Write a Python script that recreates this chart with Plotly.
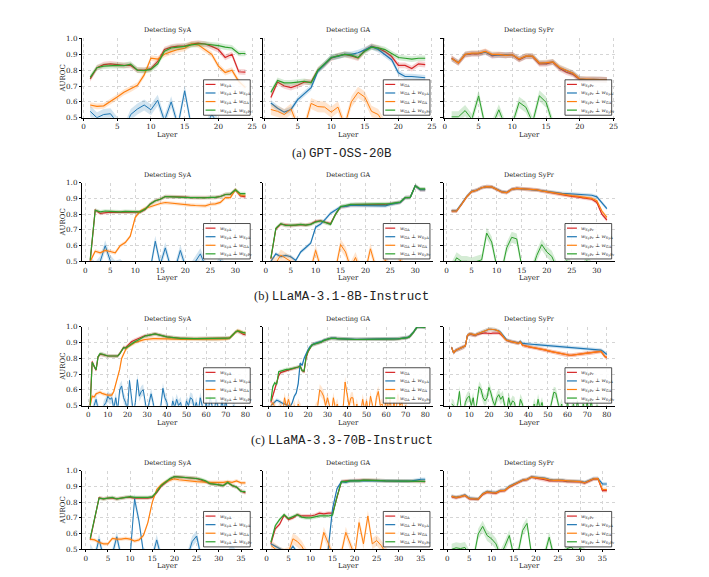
import plotly.graph_objects as go

# ---------------- data (AUROC per layer) ----------------
gpt_layers = list(range(1, 25))
gpt_sya_w = [0.745, 0.815, 0.835, 0.84, 0.835, 0.83, 0.83, 0.80, 0.80, 0.81, 0.855, 0.93,
             0.945, 0.952, 0.952, 0.965, 0.97, 0.965, 0.95, 0.93, 0.88, 0.90, 0.79, 0.787]
gpt_sya_perp_sya = [0.54, 0.50, 0.52, 0.525, 0.47, 0.42, 0.52, 0.555, 0.58, 0.55, 0.61, 0.48,
                    0.60, 0.45, 0.67, 0.44, 0.42, 0.43, 0.52, 0.46, 0.44, 0.43, 0.42, 0.42]
gpt_sya_perp_ga = [0.58, 0.572, 0.575, 0.60, 0.63, 0.66, 0.68, 0.705, 0.77, 0.876, 0.87, 0.90,
                   0.917, 0.93, 0.938, 0.965, 0.96, 0.93, 0.90, 0.825, 0.785, 0.80, 0.73, 0.69]
gpt_sya_perp_sypr = [0.755, 0.815, 0.825, 0.828, 0.83, 0.828, 0.838, 0.80, 0.797, 0.805, 0.84, 0.92,
                     0.94, 0.945, 0.95, 0.96, 0.965, 0.965, 0.96, 0.955, 0.945, 0.94, 0.905, 0.905]

gpt_ga_w = [0.628, 0.725, 0.70, 0.69, 0.705, 0.725, 0.725, 0.80, 0.835, 0.876, 0.89, 0.90,
            0.89, 0.876, 0.924, 0.952, 0.938, 0.917, 0.886, 0.83, 0.83, 0.81, 0.84, 0.835]
gpt_ga_perp_sya = [0.593, 0.56, 0.535, 0.552, 0.614, 0.655, 0.69, 0.793, 0.835, 0.88, 0.886, 0.90,
                   0.90, 0.91, 0.928, 0.948, 0.93, 0.90, 0.866, 0.783, 0.76, 0.76, 0.758, 0.752]
gpt_ga_perp_ga = [0.552, 0.54, 0.52, 0.555, 0.45, 0.44, 0.59, 0.57, 0.567, 0.535, 0.567, 0.45,
                  0.60, 0.66, 0.63, 0.54, 0.52, 0.45, 0.44, 0.43, 0.43, 0.44, 0.43, 0.43]
gpt_ga_perp_sypr = [0.66, 0.735, 0.72, 0.72, 0.725, 0.73, 0.72, 0.80, 0.84, 0.88, 0.89, 0.90,
                    0.895, 0.88, 0.92, 0.945, 0.94, 0.93, 0.905, 0.88, 0.875, 0.87, 0.875, 0.875]

gpt_sypr_w = [0.876, 0.845, 0.897, 0.903, 0.903, 0.917, 0.89, 0.897, 0.893, 0.897, 0.866, 0.886,
              0.886, 0.84, 0.84, 0.85, 0.81, 0.787, 0.773, 0.74, 0.74, 0.742, 0.74, 0.738]
gpt_sypr_perp_sya = [0.872, 0.848, 0.90, 0.905, 0.905, 0.913, 0.895, 0.895, 0.893, 0.897, 0.87, 0.888,
                     0.888, 0.845, 0.845, 0.852, 0.815, 0.795, 0.78, 0.745, 0.74, 0.742, 0.74, 0.738]
gpt_sypr_perp_ga = [0.874, 0.846, 0.90, 0.907, 0.907, 0.918, 0.90, 0.90, 0.893, 0.897, 0.87, 0.89,
                    0.888, 0.845, 0.847, 0.852, 0.817, 0.797, 0.78, 0.745, 0.742, 0.742, 0.74, 0.738]
gpt_sypr_perp_sypr = [0.505, 0.505, 0.545, 0.49, 0.638, 0.44, 0.45, 0.55, 0.44, 0.46, 0.597, 0.566,
                      0.47, 0.638, 0.597, 0.46, 0.44, 0.44, 0.44, 0.44, 0.44, 0.44, 0.44, 0.44]

l8_layers = list(range(1, 33))
l8_sya_w = [0.50, 0.826, 0.805, 0.81, 0.813, 0.812, 0.813, 0.815, 0.815, 0.813, 0.813, 0.83,
            0.865, 0.885, 0.895, 0.912, 0.912, 0.912, 0.91, 0.908, 0.905, 0.905, 0.903, 0.903,
            0.905, 0.907, 0.912, 0.925, 0.925, 0.955, 0.915, 0.91]
l8_sya_perp_sya = [0.50, 0.46, 0.50, 0.60, 0.505, 0.47, 0.48, 0.45, 0.44, 0.44, 0.44, 0.44,
                   0.45, 0.628, 0.48, 0.586, 0.47, 0.46, 0.57, 0.47, 0.45, 0.50, 0.548, 0.47,
                   0.45, 0.45, 0.505, 0.45, 0.44, 0.44, 0.44, 0.44]
l8_sya_perp_ga = [0.50, 0.565, 0.555, 0.57, 0.563, 0.555, 0.60, 0.62, 0.66, 0.78, 0.82, 0.838,
                  0.847, 0.86, 0.868, 0.874, 0.87, 0.868, 0.865, 0.86, 0.857, 0.855, 0.853, 0.853,
                  0.863, 0.865, 0.875, 0.905, 0.905, 0.955, 0.92, 0.92]
l8_sya_perp_sypr = [0.51, 0.825, 0.815, 0.82, 0.818, 0.815, 0.815, 0.818, 0.818, 0.815, 0.815, 0.832,
                    0.865, 0.885, 0.895, 0.912, 0.91, 0.91, 0.91, 0.907, 0.905, 0.905, 0.903, 0.903,
                    0.907, 0.907, 0.912, 0.925, 0.928, 0.955, 0.93, 0.93]

l8_ga_w = [0.517, 0.706, 0.737, 0.73, 0.727, 0.73, 0.733, 0.73, 0.737, 0.754, 0.758, 0.748,
           0.74, 0.80, 0.847, 0.85, 0.858, 0.86, 0.86, 0.86, 0.86, 0.86, 0.86, 0.86,
           0.865, 0.87, 0.875, 0.905, 0.907, 0.98, 0.955, 0.955]
l8_ga_perp_sya = [0.50, 0.548, 0.53, 0.538, 0.53, 0.506, 0.56, 0.586, 0.616, 0.717, 0.737, 0.77,
                  0.806, 0.826, 0.847, 0.85, 0.855, 0.855, 0.855, 0.855, 0.855, 0.855, 0.853, 0.853,
                  0.862, 0.868, 0.875, 0.905, 0.907, 0.98, 0.955, 0.955]
l8_ga_perp_ga = [0.50, 0.49, 0.54, 0.52, 0.50, 0.46, 0.44, 0.44, 0.45, 0.57, 0.46, 0.44,
                 0.44, 0.45, 0.607, 0.56, 0.46, 0.525, 0.44, 0.44, 0.58, 0.47, 0.44, 0.51,
                 0.45, 0.44, 0.51, 0.44, 0.46, 0.44, 0.44, 0.44]
l8_ga_perp_sypr = [0.52, 0.71, 0.74, 0.728, 0.73, 0.73, 0.735, 0.73, 0.735, 0.75, 0.758, 0.745,
                   0.735, 0.80, 0.848, 0.855, 0.862, 0.863, 0.863, 0.863, 0.863, 0.863, 0.863, 0.863,
                   0.867, 0.872, 0.877, 0.905, 0.907, 0.98, 0.96, 0.96]

l8_sypr_w = [0.82, 0.82, 0.863, 0.91, 0.943, 0.952, 0.968, 0.975, 0.973, 0.958, 0.941, 0.937,
             0.958, 0.964, 0.962, 0.958, 0.954, 0.954, 0.947, 0.941, 0.937, 0.93, 0.922, 0.916,
             0.913, 0.91, 0.905, 0.90, 0.895, 0.874, 0.80, 0.763]
l8_sypr_perp_sya = [0.822, 0.822, 0.865, 0.912, 0.945, 0.953, 0.968, 0.975, 0.973, 0.96, 0.943, 0.938,
                    0.958, 0.964, 0.962, 0.96, 0.956, 0.955, 0.95, 0.945, 0.94, 0.937, 0.932, 0.93,
                    0.928, 0.926, 0.925, 0.925, 0.92, 0.91, 0.87, 0.835]
l8_sypr_perp_ga = [0.82, 0.82, 0.863, 0.91, 0.943, 0.952, 0.968, 0.975, 0.973, 0.958, 0.941, 0.937,
                   0.958, 0.964, 0.962, 0.958, 0.954, 0.954, 0.948, 0.943, 0.937, 0.932, 0.926, 0.92,
                   0.918, 0.915, 0.91, 0.905, 0.90, 0.885, 0.82, 0.78]
l8_sypr_perp_sypr = [0.46, 0.523, 0.50, 0.50, 0.49, 0.50, 0.51, 0.68, 0.623, 0.47, 0.44, 0.586,
                     0.653, 0.643, 0.47, 0.44, 0.44, 0.538, 0.607, 0.56, 0.532, 0.46, 0.44, 0.505,
                     0.46, 0.47, 0.44, 0.505, 0.46, 0.44, 0.44, 0.44]

l70_layers = list(range(1, 81))
l70_sya_w = [0.50, 0.78, 0.75, 0.725, 0.81, 0.825, 0.825, 0.82, 0.818, 0.815,
             0.815, 0.815, 0.815, 0.815, 0.815, 0.83, 0.855, 0.87, 0.868, 0.88,
             0.895, 0.905, 0.912, 0.918, 0.922, 0.925, 0.935, 0.94, 0.945, 0.945,
             0.948, 0.95, 0.952, 0.955, 0.952, 0.95, 0.947, 0.943, 0.94, 0.937,
             0.935, 0.933, 0.932, 0.93, 0.93, 0.928, 0.927, 0.927, 0.926, 0.925,
             0.925, 0.925, 0.925, 0.925, 0.925, 0.925, 0.925, 0.925, 0.925, 0.925,
             0.925, 0.925, 0.925, 0.925, 0.925, 0.925, 0.926, 0.927, 0.927, 0.927,
             0.928, 0.93, 0.94, 0.955, 0.968, 0.972, 0.968, 0.96, 0.952, 0.95]
l70_sya_perp_sya = [0.45, 0.45, 0.50, 0.54, 0.48, 0.45, 0.45, 0.50, 0.52, 0.56,
                    0.54, 0.55, 0.48, 0.55, 0.47, 0.60, 0.625, 0.55, 0.52, 0.47,
                    0.66, 0.50, 0.45, 0.52, 0.665, 0.56, 0.59, 0.60, 0.48, 0.45,
                    0.52, 0.575, 0.52, 0.45, 0.45, 0.45, 0.50, 0.61, 0.55, 0.52,
                    0.46, 0.45, 0.53, 0.49, 0.54, 0.50, 0.52, 0.46, 0.45, 0.53,
                    0.50, 0.55, 0.54, 0.48, 0.52, 0.46, 0.55, 0.50, 0.45, 0.52,
                    0.46, 0.55, 0.50, 0.45, 0.54, 0.48, 0.45, 0.53, 0.47, 0.53,
                    0.46, 0.45, 0.45, 0.50, 0.46, 0.45, 0.45, 0.45, 0.45, 0.45]
l70_sya_perp_ga = [0.50, 0.56, 0.555, 0.575, 0.58, 0.585, 0.578, 0.572, 0.57, 0.567,
                   0.567, 0.567, 0.59, 0.64, 0.69, 0.73, 0.80, 0.83, 0.855, 0.87,
                   0.88, 0.888, 0.895, 0.902, 0.907, 0.91, 0.913, 0.918, 0.92, 0.922,
                   0.925, 0.925, 0.926, 0.926, 0.926, 0.925, 0.925, 0.925, 0.925, 0.924,
                   0.923, 0.923, 0.922, 0.922, 0.922, 0.922, 0.921, 0.921, 0.92, 0.92,
                   0.92, 0.92, 0.92, 0.92, 0.92, 0.92, 0.92, 0.92, 0.92, 0.92,
                   0.92, 0.92, 0.92, 0.92, 0.92, 0.92, 0.921, 0.922, 0.923, 0.924,
                   0.926, 0.93, 0.94, 0.955, 0.97, 0.978, 0.975, 0.97, 0.962, 0.965]
l70_sya_perp_sypr = [0.50, 0.775, 0.75, 0.728, 0.81, 0.83, 0.828, 0.822, 0.818, 0.815,
                     0.815, 0.815, 0.815, 0.815, 0.815, 0.828, 0.85, 0.868, 0.865, 0.872,
                     0.882, 0.892, 0.902, 0.908, 0.913, 0.92, 0.93, 0.938, 0.942, 0.945,
                     0.948, 0.95, 0.952, 0.955, 0.952, 0.95, 0.947, 0.943, 0.94, 0.937,
                     0.935, 0.933, 0.932, 0.93, 0.93, 0.928, 0.927, 0.927, 0.926, 0.925,
                     0.925, 0.925, 0.925, 0.925, 0.925, 0.925, 0.925, 0.925, 0.925, 0.925,
                     0.925, 0.925, 0.925, 0.925, 0.925, 0.925, 0.926, 0.927, 0.927, 0.927,
                     0.928, 0.93, 0.94, 0.955, 0.968, 0.975, 0.97, 0.965, 0.962, 0.96]

l70_ga_w = [0.52, 0.56, 0.60, 0.64, 0.69, 0.71, 0.715, 0.72, 0.725, 0.728,
            0.73, 0.733, 0.736, 0.74, 0.745, 0.752, 0.722, 0.715, 0.80, 0.84,
            0.865, 0.885, 0.89, 0.893, 0.895, 0.90, 0.905, 0.913, 0.918, 0.922,
            0.925, 0.927, 0.928, 0.927, 0.925, 0.924, 0.923, 0.922, 0.922, 0.921,
            0.921, 0.92, 0.92, 0.92, 0.92, 0.92, 0.92, 0.92, 0.92, 0.92,
            0.92, 0.92, 0.92, 0.92, 0.92, 0.92, 0.92, 0.92, 0.92, 0.92,
            0.92, 0.922, 0.923, 0.923, 0.924, 0.924, 0.925, 0.926, 0.928, 0.93,
            0.932, 0.938, 0.95, 0.965, 0.985, 1.0, 1.0, 1.0, 1.0, 0.997]
l70_ga_perp_sya = [0.50, 0.51, 0.52, 0.535, 0.53, 0.52, 0.515, 0.51, 0.505, 0.505,
                   0.495, 0.52, 0.56, 0.58, 0.64, 0.77, 0.755, 0.80, 0.83, 0.855,
                   0.875, 0.885, 0.892, 0.897, 0.90, 0.903, 0.908, 0.915, 0.92, 0.925,
                   0.926, 0.928, 0.929, 0.928, 0.926, 0.925, 0.924, 0.923, 0.923, 0.922,
                   0.922, 0.921, 0.921, 0.921, 0.921, 0.921, 0.921, 0.921, 0.921, 0.921,
                   0.921, 0.921, 0.921, 0.921, 0.921, 0.921, 0.921, 0.921, 0.921, 0.921,
                   0.921, 0.923, 0.924, 0.924, 0.925, 0.925, 0.926, 0.927, 0.929, 0.931,
                   0.933, 0.939, 0.951, 0.966, 0.986, 1.0, 1.0, 1.0, 1.0, 0.998]
l70_ga_perp_ga = [0.50, 0.52, 0.49, 0.45, 0.47, 0.50, 0.45, 0.55, 0.49, 0.54,
                  0.49, 0.46, 0.50, 0.45, 0.51, 0.47, 0.45, 0.45, 0.47, 0.45,
                  0.45, 0.46, 0.45, 0.48, 0.50, 0.60, 0.585, 0.56, 0.50, 0.55,
                  0.48, 0.45, 0.55, 0.48, 0.51, 0.45, 0.46, 0.48, 0.65, 0.57,
                  0.50, 0.55, 0.55, 0.46, 0.51, 0.45, 0.46, 0.54, 0.47, 0.53,
                  0.45, 0.56, 0.48, 0.45, 0.55, 0.59, 0.50, 0.51, 0.45, 0.55,
                  0.47, 0.54, 0.45, 0.52, 0.46, 0.57, 0.50, 0.52, 0.45, 0.50,
                  0.46, 0.45, 0.45, 0.45, 0.45, 0.45, 0.45, 0.45, 0.45, 0.45]
l70_ga_perp_sypr = [0.53, 0.62, 0.645, 0.635, 0.715, 0.72, 0.725, 0.728, 0.73, 0.73,
                    0.732, 0.735, 0.74, 0.742, 0.745, 0.75, 0.722, 0.72, 0.81, 0.845,
                    0.865, 0.885, 0.89, 0.893, 0.895, 0.90, 0.905, 0.913, 0.918, 0.922,
                    0.925, 0.927, 0.928, 0.927, 0.925, 0.924, 0.923, 0.922, 0.922, 0.921,
                    0.921, 0.92, 0.92, 0.92, 0.92, 0.92, 0.92, 0.92, 0.92, 0.92,
                    0.92, 0.92, 0.92, 0.92, 0.92, 0.92, 0.92, 0.92, 0.92, 0.92,
                    0.92, 0.922, 0.923, 0.923, 0.924, 0.924, 0.925, 0.926, 0.928, 0.93,
                    0.932, 0.938, 0.95, 0.965, 0.985, 1.0, 1.0, 1.0, 1.0, 0.997]

l70_sypr_w = [0.87, 0.835, 0.85, 0.855, 0.86, 0.865, 0.87, 0.88, 0.945, 0.952,
              0.952, 0.948, 0.945, 0.952, 0.955, 0.96, 0.962, 0.962, 0.96, 0.958,
              0.958, 0.96, 0.96, 0.962, 0.96, 0.953, 0.94, 0.925, 0.915, 0.91,
              0.908, 0.905, 0.902, 0.90, 0.895, 0.905, 0.885, 0.88, 0.878, 0.875,
              0.872, 0.87, 0.868, 0.866, 0.864, 0.862, 0.86, 0.856, 0.852, 0.848,
              0.845, 0.842, 0.84, 0.838, 0.835, 0.832, 0.828, 0.825, 0.822, 0.82,
              0.82, 0.82, 0.821, 0.822, 0.825, 0.827, 0.828, 0.83, 0.832, 0.833,
              0.834, 0.835, 0.836, 0.838, 0.84, 0.843, 0.845, 0.83, 0.812, 0.805]
l70_sypr_perp_sya = [0.87, 0.835, 0.85, 0.855, 0.86, 0.865, 0.87, 0.88, 0.945, 0.955,
                     0.955, 0.95, 0.948, 0.955, 0.96, 0.965, 0.972, 0.978, 0.982, 0.985,
                     0.985, 0.985, 0.982, 0.978, 0.975, 0.965, 0.948, 0.93, 0.918, 0.912,
                     0.908, 0.905, 0.902, 0.90, 0.898, 0.908, 0.895, 0.893, 0.892, 0.89,
                     0.89, 0.889, 0.888, 0.887, 0.886, 0.885, 0.884, 0.883, 0.882, 0.881,
                     0.88, 0.88, 0.879, 0.878, 0.877, 0.876, 0.875, 0.875, 0.874, 0.873,
                     0.872, 0.871, 0.87, 0.869, 0.868, 0.866, 0.865, 0.864, 0.863, 0.862,
                     0.861, 0.86, 0.858, 0.857, 0.856, 0.855, 0.853, 0.845, 0.835, 0.825]
l70_sypr_perp_ga = [0.87, 0.835, 0.85, 0.855, 0.86, 0.865, 0.87, 0.88, 0.945, 0.955,
                    0.955, 0.95, 0.948, 0.955, 0.96, 0.965, 0.972, 0.978, 0.982, 0.985,
                    0.985, 0.985, 0.982, 0.978, 0.972, 0.96, 0.942, 0.925, 0.915, 0.91,
                    0.908, 0.905, 0.902, 0.90, 0.895, 0.905, 0.885, 0.88, 0.878, 0.875,
                    0.872, 0.87, 0.868, 0.866, 0.864, 0.862, 0.86, 0.856, 0.852, 0.848,
                    0.845, 0.842, 0.84, 0.838, 0.835, 0.832, 0.828, 0.825, 0.822, 0.82,
                    0.82, 0.82, 0.821, 0.822, 0.825, 0.827, 0.828, 0.83, 0.832, 0.833,
                    0.834, 0.835, 0.836, 0.838, 0.84, 0.843, 0.845, 0.83, 0.812, 0.805]
l70_sypr_perp_sypr = [0.51, 0.50, 0.46, 0.50, 0.59, 0.45, 0.45, 0.52, 0.55, 0.56,
                      0.50, 0.55, 0.45, 0.55, 0.62, 0.60, 0.55, 0.53, 0.55, 0.615,
                      0.58, 0.53, 0.50, 0.55, 0.57, 0.54, 0.56, 0.50, 0.46, 0.55,
                      0.50, 0.53, 0.52, 0.45, 0.46, 0.54, 0.51, 0.45, 0.45, 0.45,
                      0.46, 0.45, 0.51, 0.47, 0.54, 0.48, 0.52, 0.45, 0.46, 0.45,
                      0.47, 0.52, 0.585, 0.58, 0.53, 0.47, 0.51, 0.45, 0.46, 0.52,
                      0.45, 0.47, 0.51, 0.45, 0.53, 0.46, 0.45, 0.51, 0.46, 0.52,
                      0.45, 0.53, 0.46, 0.45, 0.50, 0.45, 0.45, 0.45, 0.45, 0.45]

q_layers = list(range(1, 37))
q_sya_w = [0.56, 0.70, 0.827, 0.82, 0.825, 0.825, 0.82, 0.825, 0.83, 0.83, 0.825, 0.825,
           0.825, 0.825, 0.83, 0.86, 0.90, 0.925, 0.945, 0.962, 0.96, 0.955, 0.955, 0.95,
           0.95, 0.94, 0.93, 0.917, 0.915, 0.91, 0.905, 0.925, 0.905, 0.895, 0.87, 0.858]
q_sya_perp_sya = [0.50, 0.45, 0.565, 0.45, 0.45, 0.47, 0.58, 0.45, 0.45, 0.45, 0.82, 0.68,
                  0.48, 0.45, 0.45, 0.56, 0.45, 0.44, 0.44, 0.44, 0.44, 0.44, 0.46, 0.55,
                  0.585, 0.45, 0.44, 0.44, 0.44, 0.44, 0.44, 0.46, 0.50, 0.45, 0.44, 0.44]
q_sya_perp_ga = [0.565, 0.56, 0.545, 0.535, 0.535, 0.57, 0.565, 0.565, 0.57, 0.565, 0.553, 0.56,
                 0.588, 0.67, 0.80, 0.88, 0.91, 0.93, 0.94, 0.948, 0.942, 0.938, 0.935, 0.932,
                 0.93, 0.928, 0.925, 0.925, 0.925, 0.925, 0.925, 0.93, 0.925, 0.935, 0.922, 0.922]
q_sya_perp_sypr = [0.57, 0.70, 0.825, 0.82, 0.825, 0.83, 0.82, 0.825, 0.83, 0.835, 0.83, 0.83,
                   0.83, 0.83, 0.835, 0.865, 0.905, 0.93, 0.95, 0.962, 0.96, 0.96, 0.955, 0.955,
                   0.95, 0.945, 0.935, 0.917, 0.915, 0.91, 0.905, 0.925, 0.905, 0.895, 0.868, 0.866]

q_ga_w = [0.535, 0.63, 0.66, 0.717, 0.69, 0.70, 0.72, 0.712, 0.712, 0.712, 0.718, 0.73,
          0.725, 0.73, 0.73, 0.837, 0.93, 0.935, 0.937, 0.937, 0.937, 0.94, 0.94, 0.94,
          0.938, 0.937, 0.935, 0.935, 0.934, 0.933, 0.933, 0.932, 0.932, 0.932, 0.932, 0.93]
q_ga_perp_sya = [0.535, 0.52, 0.50, 0.49, 0.48, 0.52, 0.48, 0.47, 0.47, 0.46, 0.46, 0.45,
                 0.45, 0.50, 0.76, 0.885, 0.93, 0.925, 0.935, 0.935, 0.935, 0.938, 0.938, 0.938,
                 0.937, 0.936, 0.935, 0.934, 0.934, 0.933, 0.933, 0.934, 0.935, 0.94, 0.945, 0.945]
q_ga_perp_ga = [0.525, 0.50, 0.48, 0.47, 0.48, 0.567, 0.55, 0.52, 0.47, 0.45, 0.45, 0.47,
                0.608, 0.54, 0.46, 0.45, 0.48, 0.608, 0.525, 0.46, 0.67, 0.535, 0.712, 0.535,
                0.556, 0.525, 0.48, 0.45, 0.45, 0.45, 0.45, 0.45, 0.45, 0.45, 0.45, 0.45]
q_ga_perp_sypr = [0.545, 0.65, 0.69, 0.72, 0.695, 0.705, 0.72, 0.705, 0.70, 0.70, 0.705, 0.712,
                  0.712, 0.712, 0.718, 0.835, 0.93, 0.93, 0.935, 0.935, 0.935, 0.94, 0.94, 0.94,
                  0.938, 0.937, 0.935, 0.935, 0.934, 0.933, 0.933, 0.932, 0.932, 0.932, 0.932, 0.932]

q_sypr_w = [0.833, 0.827, 0.833, 0.842, 0.82, 0.82, 0.817, 0.848, 0.862, 0.858, 0.855, 0.87,
            0.872, 0.895, 0.91, 0.925, 0.938, 0.942, 0.958, 0.952, 0.948, 0.942, 0.935, 0.935,
            0.937, 0.935, 0.93, 0.93, 0.928, 0.928, 0.92, 0.935, 0.946, 0.948, 0.873, 0.873]
q_sypr_perp_sya = [0.838, 0.832, 0.837, 0.845, 0.825, 0.823, 0.82, 0.853, 0.868, 0.863, 0.862, 0.875,
                   0.877, 0.90, 0.912, 0.928, 0.94, 0.945, 0.96, 0.958, 0.957, 0.952, 0.945, 0.94,
                   0.94, 0.94, 0.935, 0.935, 0.933, 0.932, 0.925, 0.938, 0.95, 0.95, 0.915, 0.915]
q_sypr_perp_ga = [0.836, 0.83, 0.835, 0.843, 0.823, 0.822, 0.819, 0.851, 0.865, 0.861, 0.859, 0.873,
                  0.875, 0.898, 0.911, 0.927, 0.939, 0.944, 0.959, 0.956, 0.954, 0.949, 0.942, 0.938,
                  0.939, 0.938, 0.933, 0.933, 0.931, 0.93, 0.923, 0.937, 0.948, 0.949, 0.88, 0.88]
q_sypr_perp_sypr = [0.50, 0.51, 0.505, 0.512, 0.46, 0.45, 0.598, 0.646, 0.588, 0.567, 0.535, 0.46,
                    0.52, 0.588, 0.46, 0.48, 0.62, 0.665, 0.47, 0.45, 0.45, 0.47, 0.577, 0.46,
                    0.45, 0.45, 0.505, 0.515, 0.48, 0.51, 0.47, 0.45, 0.45, 0.45, 0.45, 0.45]

# ---------------- figure ----------------
W, H = 709, 577
colors = ["#d62728", "#1f77b4", "#ff7f0e", "#2ca02c"]
fills = ["rgba(214,39,40,0.2)", "rgba(31,119,180,0.2)", "rgba(255,127,14,0.2)", "rgba(44,160,44,0.2)"]
titles = ["Detecting SyA", "Detecting GA", "Detecting SyPr"]
concepts = ["SyA", "GA", "SyPr"]

rows = [
    dict(tag="(a)", name="GPT-OSS-20B", layers=gpt_layers, ticks=[0, 5, 10, 15, 20, 25], spread=0.018,
         panels=[[gpt_sya_w, gpt_sya_perp_sya, gpt_sya_perp_ga, gpt_sya_perp_sypr],
                 [gpt_ga_w, gpt_ga_perp_sya, gpt_ga_perp_ga, gpt_ga_perp_sypr],
                 [gpt_sypr_w, gpt_sypr_perp_sya, gpt_sypr_perp_ga, gpt_sypr_perp_sypr]]),
    dict(tag="(b)", name="LLaMA-3.1-8B-Instruct", layers=l8_layers, ticks=[0, 5, 10, 15, 20, 25, 30], spread=0.012,
         panels=[[l8_sya_w, l8_sya_perp_sya, l8_sya_perp_ga, l8_sya_perp_sypr],
                 [l8_ga_w, l8_ga_perp_sya, l8_ga_perp_ga, l8_ga_perp_sypr],
                 [l8_sypr_w, l8_sypr_perp_sya, l8_sypr_perp_ga, l8_sypr_perp_sypr]]),
    dict(tag="(c)", name="LLaMA-3.3-70B-Instruct", layers=l70_layers, ticks=[0, 10, 20, 30, 40, 50, 60, 70, 80], spread=0.012,
         panels=[[l70_sya_w, l70_sya_perp_sya, l70_sya_perp_ga, l70_sya_perp_sypr],
                 [l70_ga_w, l70_ga_perp_sya, l70_ga_perp_ga, l70_ga_perp_sypr],
                 [l70_sypr_w, l70_sypr_perp_sya, l70_sypr_perp_ga, l70_sypr_perp_sypr]]),
    dict(tag=None, name=None, layers=q_layers, ticks=[0, 5, 10, 15, 20, 25, 30, 35], spread=0.012,
         panels=[[q_sya_w, q_sya_perp_sya, q_sya_perp_ga, q_sya_perp_sypr],
                 [q_ga_w, q_ga_perp_sya, q_ga_perp_ga, q_ga_perp_sypr],
                 [q_sypr_w, q_sypr_perp_sya, q_sypr_perp_ga, q_sypr_perp_sypr]]),
]

# pixel boxes of the plot areas
col_px = [(82, 254), (264, 435), (446, 618)]
row_px = [(35, 115.5), (181.5, 261.5), (328, 408), (474, 554)]
caption_y = [152, 297, 443]

serif = "DejaVu Serif"
fig = go.Figure()
shapes = []
annotations = []


def w(c):
    return "<i>w</i><sub>" + c + "</sub>"


for r, row in enumerate(rows):
    layers = row["layers"]
    n = len(layers)
    pad = 0.05 * (n - 1)
    y0, y1 = row_px[r]
    for c in range(3):
        k = r * 3 + c + 1
        sfx = "" if k == 1 else str(k)
        x0, x1 = col_px[c]
        chance = c + 1  # the series orthogonalised against itself
        for i, vals in enumerate(row["panels"][c]):
            s = 0.035 if i == chance else row["spread"]
            upper = [v + s for v in vals]
            lower = [v - s for v in vals]
            fig.add_trace(go.Scatter(x=layers + layers[::-1], y=upper + lower[::-1], fill="toself",
                                     fillcolor=fills[i], line=dict(width=0), hoverinfo="skip",
                                     showlegend=False, xaxis="x" + sfx, yaxis="y" + sfx))
            fig.add_trace(go.Scatter(x=layers, y=vals, mode="lines",
                                     line=dict(color=colors[i], width=1.0 if i == chance else 1.2),
                                     showlegend=False, xaxis="x" + sfx, yaxis="y" + sfx))

        fig.update_layout(**{
            "xaxis" + sfx: dict(domain=[x0 / W, x1 / W], anchor="y" + sfx, range=[1 - pad, n + pad],
                                tickvals=row["ticks"], ticks="outside", ticklen=2, tickwidth=0.8,
                                tickcolor="black", showline=True, linecolor="black", linewidth=1,
                                showgrid=True, gridcolor="#d5d5d5", griddash="dot", gridwidth=0.6,
                                zeroline=False,
                                tickfont=dict(family=serif, size=7.2, color="#222")),
            "yaxis" + sfx: dict(domain=[1 - y1 / H, 1 - y0 / H], anchor="x" + sfx, range=[0.5, 1.0],
                                tickvals=[0.5, 0.6, 0.7, 0.8, 0.9, 1.0],
                                ticktext=["0.5", "0.6", "0.7", "0.8", "0.9", "1.0"],
                                showticklabels=(c == 0), ticks="outside", ticklen=2.5, tickwidth=0.8,
                                tickcolor="black", showline=True, linecolor="black", linewidth=1,
                                showgrid=True, gridcolor="#d5d5d5", griddash="dot", gridwidth=0.6,
                                zeroline=False,
                                tickfont=dict(family=serif, size=7.2, color="#222")),
        })

        xr, yr = "x" + sfx + " domain", "y" + sfx + " domain"
        annotations.append(dict(text=titles[c], xref=xr, yref=yr,
                                x=0.5, y=1.0, yshift=2, xanchor="center", yanchor="bottom", showarrow=False,
                                font=dict(family=serif, size=6.5, color="#222")))
        annotations.append(dict(text="Layer", xref=xr, yref=yr, x=0.5, y=0, yshift=-17,
                                xanchor="center", yanchor="middle", showarrow=False,
                                font=dict(family=serif, size=7, color="#222")))
        if c == 0:
            annotations.append(dict(text="AUROC", xref=xr, yref=yr, x=0, y=0.5, xshift=-19, textangle=-90,
                                    xanchor="center", yanchor="middle", showarrow=False,
                                    font=dict(family=serif, size=7, color="#222")))

        # legend box in the lower right corner of each panel
        pw, ph = x1 - x0, y1 - y0
        bx0, bx1 = pw - 50, pw - 3
        by0, by1 = 2.5, 38.5
        shapes.append(dict(type="rect", xref=xr, yref=yr, x0=bx0 / pw, x1=bx1 / pw, y0=by0 / ph, y1=by1 / ph,
                           fillcolor="rgba(255,255,255,0.85)", line=dict(color="#222", width=0.8), layer="above"))
        base = concepts[c]
        labels = [w(base)] + [w(base) + " ⊥ " + w(o) for o in concepts]
        for i, lab in enumerate(labels):
            yc = by1 - 4.7 - 8.7 * i
            shapes.append(dict(type="line", xref=xr, yref=yr, x0=(bx0 + 2) / pw, x1=(bx0 + 12) / pw,
                               y0=yc / ph, y1=yc / ph, line=dict(color=colors[i], width=1.2), layer="above"))
            annotations.append(dict(text=lab, xref=xr, yref=yr, x=(bx0 + 14.5) / pw, y=yc / ph,
                                    xanchor="left", yanchor="middle", showarrow=False,
                                    font=dict(family=serif, size=5, color="#222")))

    if row["tag"]:
        annotations.append(dict(text=row["tag"] + " <span style='font-family:Liberation Mono'>" + row["name"] + "</span>",
                                xref="paper", yref="paper", x=343 / W, y=1 - caption_y[r] / H,
                                xanchor="center", yanchor="middle", showarrow=False,
                                font=dict(family="Liberation Serif", size=12.5, color="#222")))

fig.update_layout(width=W, height=H, margin=dict(l=0, r=0, t=0, b=0), showlegend=False,
                  paper_bgcolor="white", plot_bgcolor="white", shapes=shapes, annotations=annotations)

# drop the page's default body margin so the figure sits at the window's top-left corner
fig.write_html("out.html", config={"displayModeBar": False},
               post_script="document.body.style.margin='0';")
